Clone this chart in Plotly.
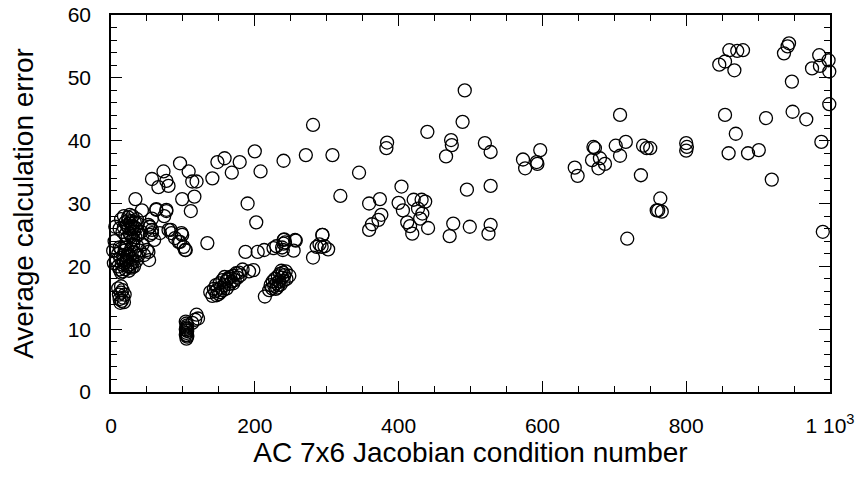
import plotly.graph_objects as go

# ---- data: (condition number, average error), grouped by region ----
scatter_upper_x = [281, 200, 158, 148, 179, 240, 271, 308, 96, 73, 108, 208, 168, 57, 77, 80, 66, 113, 119, 141,
                   319, 34, 99, 116, 111, 190, 202, 43, 63, 77, 74, 57, 54, 99, 83, 134, 294, 256, 240, 345]
scatter_upper_y = [42.5, 38.3, 37.2, 36.6, 36.6, 36.8, 37.7, 37.7, 36.4, 35.1, 35.1, 35.1, 34.9, 33.9, 33.6, 32.8, 32.6, 33.5, 33.5, 34.0,
                   31.2, 30.7, 30.7, 31.1, 28.8, 30.0, 27.0, 28.9, 29.1, 29.0, 28.0, 27.6, 26.3, 25.0, 25.8, 23.7, 25.0, 24.2, 24.2, 34.9]

middle_x = [359, 374, 376, 372, 363, 359, 384, 383, 404, 400, 406, 412, 416, 419, 421, 432, 437, 427, 433, 430,
            441, 440, 489, 492, 473, 474, 466, 495, 476, 471, 499, 520, 528, 528, 528, 525, 573, 576, 597, 592,
            593, 645, 649]
middle_y = [30.0, 30.7, 28.2, 27.4, 26.7, 25.8, 39.7, 38.8, 32.7, 30.1, 28.9, 27.0, 26.4, 25.2, 30.6, 30.6, 30.3, 29.2, 28.4, 27.6,
            26.1, 41.4, 43.0, 48.0, 40.1, 39.3, 37.5, 32.2, 26.8, 24.8, 26.3, 39.6, 38.2, 32.8, 26.6, 25.2, 37.0, 35.6, 38.5, 36.6,
            36.3, 35.7, 34.4]

right_x = [708, 671, 673, 702, 716, 669, 680, 678, 687, 708, 740, 745, 750, 800, 801, 800, 737, 764, 761, 766,
           759, 718, 860, 871, 879, 846, 854, 867, 943, 941, 936, 947, 985, 975, 986, 998, 999, 999, 854, 869,
           859, 886, 901, 911, 948, 967, 919, 988, 990]
right_y = [44.1, 39.0, 38.8, 39.2, 39.8, 36.9, 37.2, 35.6, 36.3, 37.6, 39.2, 38.8, 38.8, 39.6, 39.0, 38.4, 34.5, 30.8, 28.9, 28.7,
           28.9, 24.4, 54.4, 54.3, 54.4, 52.1, 52.6, 51.2, 55.5, 55.0, 53.9, 49.4, 53.6, 51.5, 51.9, 52.8, 51.0, 45.8, 44.1, 41.1,
           38.0, 38.0, 38.5, 43.6, 44.6, 43.4, 33.8, 39.8, 25.5]

left_cluster_x = [14, 18, 20, 22, 24, 25, 26, 28, 28, 30, 30, 32, 33, 34, 35, 36, 38, 16, 20, 23, 12, 26, 31, 37, 18,
                  8, 10, 10, 12, 13, 14, 15, 16, 17, 18, 19, 20, 21, 22, 23, 24, 25, 26, 27, 28, 29, 30, 32, 33, 35,
                  36, 38, 40, 12, 20, 14, 31, 4, 5, 6, 3,
                  27, 29, 24, 33, 21, 17, 35, 30, 22, 26,
                  10, 11, 12, 13, 14, 15, 16, 17, 18, 14, 19,
                  52, 57, 57, 54, 63, 68, 77, 80, 84, 89, 94, 98, 96, 101, 103, 104, 53, 52, 50, 54, 60, 44, 42, 46]
left_cluster_y = [27.5, 28.0, 27.0, 26.5, 27.8, 26.0, 25.2, 27.2, 24.8, 26.3, 28.0, 25.5, 27.0, 24.6, 26.0, 27.5, 25.0, 25.5, 25.0, 24.6, 26.0, 28.2, 24.3, 26.8, 26.2,
                  21.0, 20.0, 22.0, 19.5, 21.3, 22.8, 20.3, 19.2, 21.8, 20.5, 22.5, 19.5, 21.0, 23.0, 20.0, 22.0, 19.3, 21.5, 20.3, 22.8, 19.8, 21.2, 20.0, 22.2, 20.8,
                  23.3, 21.7, 22.5, 23.0, 23.5, 19.0, 23.5, 20.5, 24.0, 26.3, 22.5,
                  26.8, 25.9, 27.3, 26.2, 20.7, 20.9, 21.9, 20.6, 21.6, 19.9,
                  16.5, 15.5, 14.8, 14.2, 15.8, 14.5, 16.2, 15.0, 14.3, 16.8, 15.5,
                  26.6, 25.8, 25.3, 26.3, 29.0, 25.3, 28.8, 25.8, 25.3, 24.5, 23.9, 25.3, 23.9, 23.1, 22.6, 22.6, 21.0, 22.3, 22.6, 25.0, 24.2, 23.5, 25.5, 21.8]

low_cluster_x = [105, 106, 104, 105, 106, 104, 105, 106, 105, 104, 106, 105, 106, 117, 119, 121, 113,
                 138, 141, 143, 145, 146, 148, 150, 151, 153, 155, 156, 158, 160, 161, 163, 165, 166, 168, 170, 172,
                 174, 176, 178, 180, 152, 147, 162, 158, 170, 183, 192, 198,
                 214, 220, 222, 224, 225, 227, 228, 230, 231, 232, 234, 235, 236, 238, 239, 240, 241, 243, 244, 248,
                 229, 233, 237,
                 238, 240, 241, 239, 242, 226, 230, 257, 254, 213, 204, 187,
                 281, 286, 290, 293, 294, 302, 297]
low_cluster_y = [8.5, 8.8, 9.1, 9.4, 9.7, 10.0, 10.3, 10.6, 10.9, 11.2, 9.0, 9.8, 10.1, 11.5, 12.3, 11.7, 11.0,
                 15.9, 15.3, 16.4, 16.0, 17.0, 16.3, 15.6, 17.3, 16.6, 17.8, 16.2, 17.0, 17.6, 16.5, 18.1, 17.2, 18.3, 17.6, 18.5, 17.8,
                 18.9, 18.2, 19.0, 18.6, 15.9, 15.4, 17.9, 18.3, 17.3, 19.5, 19.2, 19.4,
                 15.2, 16.2, 17.0, 16.5, 17.6, 16.9, 18.0, 17.3, 16.6, 18.4, 17.6, 18.8, 17.1, 18.2, 19.0, 17.7, 18.6, 19.2, 18.0, 18.5,
                 16.4, 17.0, 19.3,
                 23.0, 23.6, 24.3, 22.6, 23.8, 22.9, 23.2, 24.1, 22.5, 22.6, 22.3, 22.3,
                 21.4, 23.1, 23.5, 23.1, 25.0, 22.7, 23.2]

x_all = scatter_upper_x + middle_x + right_x + left_cluster_x + low_cluster_x
y_all = scatter_upper_y + middle_y + right_y + left_cluster_y + low_cluster_y

x_tickvals = [0, 200, 400, 600, 800, 1000]
x_ticktext = ["0", "200", "400", "600", "800", "1 10<sup>3</sup>"]
y_tickvals = [0, 10, 20, 30, 40, 50, 60]

fig = go.Figure()
fig.add_trace(go.Scatter(
    x=x_all, y=y_all, mode="markers", cliponaxis=False, showlegend=False,
    marker=dict(symbol="circle-open", size=13, color="black", line=dict(width=1.3, color="black")),
))

font = "Liberation Sans, Arial, sans-serif"
axis_common = dict(
    showline=True, linecolor="black", linewidth=1.5, mirror="ticks",
    ticks="inside", ticklen=11, tickwidth=1.3, tickcolor="black",
    showgrid=False, zeroline=False,
    tickfont=dict(family=font, size=21, color="black"),
)
fig.update_xaxes(
    range=[0, 1000], tickmode="array", tickvals=x_tickvals, ticktext=x_ticktext,
    minor=dict(ticks="inside", dtick=50, ticklen=6, tickwidth=1.2, tickcolor="black"),
    title=dict(text="AC 7x6 Jacobian condition number", font=dict(family=font, size=28, color="black"), standoff=0),
    ticklabelstandoff=14,
    **axis_common,
)
fig.update_yaxes(
    range=[0, 60], tickmode="array", tickvals=y_tickvals,
    minor=dict(ticks="inside", dtick=2, ticklen=6, tickwidth=1.2, tickcolor="black"),
    title=dict(text="Average calculation error", font=dict(family=font, size=28, color="black"), standoff=26),
    ticklabelstandoff=14,
    **axis_common,
)
fig.update_layout(
    width=860, height=477,
    margin=dict(l=111, r=30, t=15, b=85, autoexpand=False),
    paper_bgcolor="white", plot_bgcolor="white",
)
fig.write_html("out.html")
